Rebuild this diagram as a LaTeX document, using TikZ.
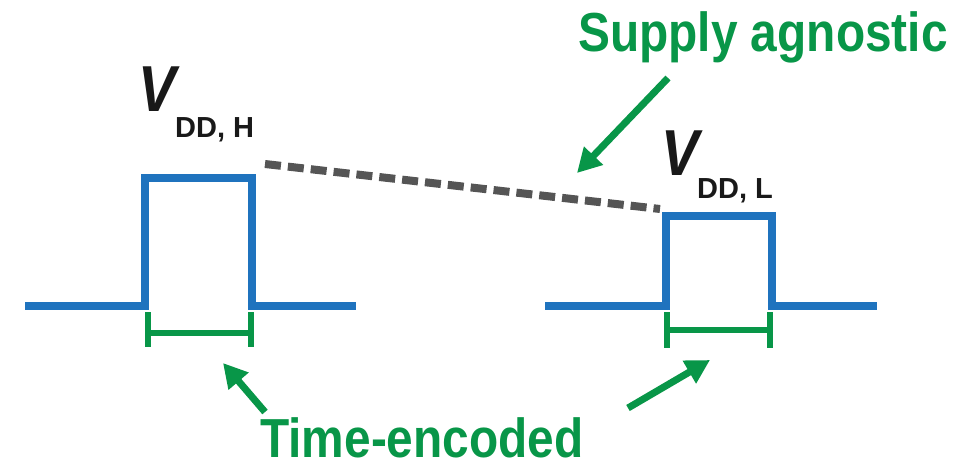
\documentclass[tikz,border=0pt]{standalone}
\usepackage{fontspec}
\setmainfont{Liberation Sans}
\newfontfamily\condfont[FakeStretch=0.87]{Liberation Sans}
\newfontfamily\vfont[FakeStretch=0.87]{Liberation Sans}
\newfontfamily\subfont{Liberation Sans}
\usetikzlibrary{arrows.meta}
\definecolor{pulseblue}{RGB}{31,115,190}
\definecolor{mygreen}{RGB}{8,150,72}
\definecolor{dashgray}{RGB}{85,85,85}
\definecolor{txtblack}{RGB}{25,25,25}
\tikzset{
  pulse/.style={draw=pulseblue, line width=8pt, line join=miter},
  bracketline/.style={draw=mygreen, line width=6pt},
  greenarrow/.style={draw=mygreen, line width=7pt, -{Triangle[width=25pt,length=24pt]}},
  grayline/.style={draw=dashgray, line width=8pt, dash pattern=on 16pt off 7pt},
  greenlabel/.style={text=mygreen, inner sep=0pt, anchor=base west, font=\condfont\bfseries\fontsize{55}{60}\selectfont},
  vlabel/.style={text=txtblack, inner sep=0pt, anchor=base west, font=\vfont\bfseries\itshape\fontsize{65}{70}\selectfont},
  sublabel/.style={text=txtblack, inner sep=0pt, anchor=base west, font=\subfont\bfseries\fontsize{29}{32}\selectfont}
}
\begin{document}
\begin{tikzpicture}[x=1pt, y=-1pt]
\useasboundingbox (0,0) rectangle (976,468);
% left pulse
\coordinate (l0) at (25,306);
\coordinate (l1) at (145,306);
\coordinate (l2) at (145,177.5);
\coordinate (l3) at (251.5,177.5);
\coordinate (l4) at (251.5,306);
\coordinate (l5) at (356,306);
\draw[pulse] (l0) -- (l1) -- (l2) -- (l3) -- (l4) -- (l5);
% right pulse
\coordinate (r0) at (545,306);
\coordinate (r1) at (665.5,306);
\coordinate (r2) at (665.5,216);
\coordinate (r3) at (772,216);
\coordinate (r4) at (772,306);
\coordinate (r5) at (877,306);
\draw[pulse] (r0) -- (r1) -- (r2) -- (r3) -- (r4) -- (r5);
% brackets
\draw[bracketline] (148,312) -- (148,347);
\draw[bracketline] (251,312) -- (251,347);
\draw[bracketline] (148,333) -- (251,333);
\draw[bracketline] (667,312) -- (667,348);
\draw[bracketline] (769.5,312) -- (769.5,348);
\draw[bracketline] (667,330) -- (769.5,330);
% dashed line
\coordinate (dA) at (265,164);
\coordinate (dB) at (660,209);
\draw[grayline] (dA) -- (dB);
% labels
\node[vlabel] (vh) at (138,112) {V};
\node[sublabel] (vhs) at (175,137) {DD, H};
\node[vlabel] (vl) at (661,175) {V};
\node[sublabel] (vls) at (697,198) {DD, L};
\node[greenlabel] (supply) at (578,52) {Supply agnostic};
\node[greenlabel] (time) at (260,457) {Time-encoded};
% arrows
\coordinate (sa1) at (668,78);
\coordinate (sa2) at (577,173);
\draw[greenarrow] (sa1) -- (sa2);
\coordinate (ta1) at (265,412);
\coordinate (ta2) at (223,363);
\draw[greenarrow] (ta1) -- (ta2);
\coordinate (tb1) at (628,408);
\coordinate (tb2) at (710,360);
\draw[greenarrow] (tb1) -- (tb2);
\end{tikzpicture}
\end{document}
